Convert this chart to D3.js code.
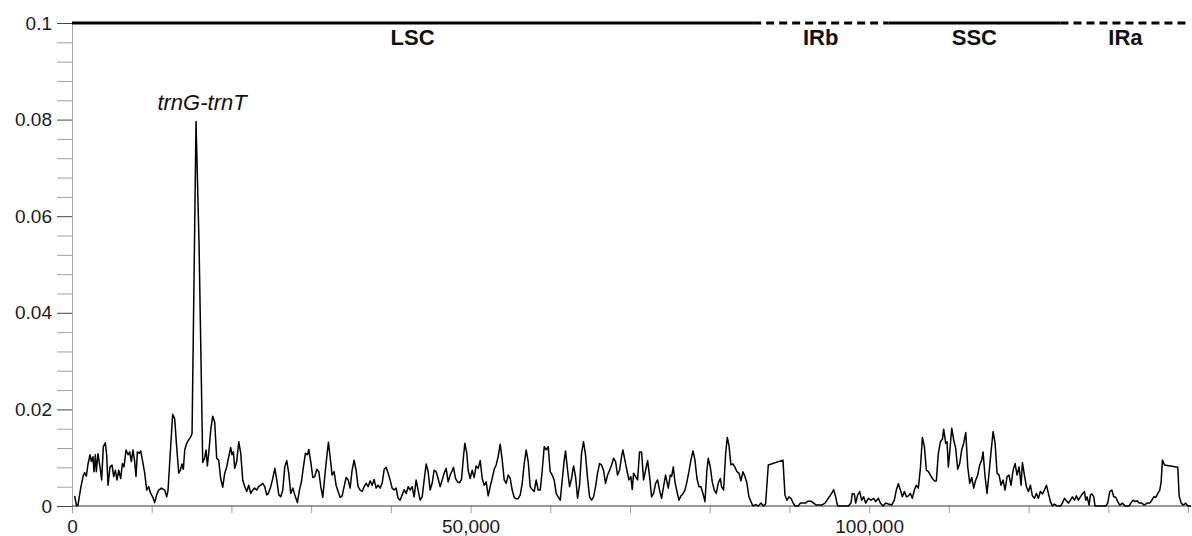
<!DOCTYPE html>
<html>
<head>
<meta charset="utf-8">
<script src="https://cdn.jsdelivr.net/npm/d3@7"></script>
<style>
  html, body { margin: 0; padding: 0; background: #fff; }
  svg { display: block; font-family: "Liberation Sans", Arial, sans-serif; }
</style>
</head>
<body>
<svg id="chart"></svg>
<script>
// sliding-window nucleotide diversity (Pi) along the plastome

// window midpoints (bp)
const positions = [
  330, 580, 750, 1090, 1380, 1590, 1800, 2010, 2260, 2430, 2630, 2760, 2930, 3050, 3260, 3510, 3720, 3930, 4180, 4350,
  4520, 4770, 5020, 5230, 5440, 5650, 5860, 6110, 6320, 6520, 6780, 7030, 7240, 7440, 7650, 7860, 8030, 8200, 8450, 8620,
  8870, 9120, 9370, 9620, 9870, 10120, 10370, 10620, 10870, 11210, 11630, 11880, 12050, 12300, 12630, 12880, 13130, 13390, 13590, 13800,
  13970, 14140, 14390, 14640, 14890, 15060, 15560, 15940, 16400, 16650, 16820, 16980, 17150, 17400, 17650, 17900, 18150, 18400, 18650, 18910,
  19160, 19410, 19660, 19910, 20080, 20250, 20410, 20660, 20920, 21170, 21420, 21670, 21920, 22170, 22420, 22670, 22920, 23170, 23420, 23670,
  23930, 24180, 24430, 24600, 24930, 25190, 25440, 25690, 25940, 26190, 26440, 26690, 26940, 27190, 27440, 27700, 27950, 28280, 28530, 28780,
  29030, 29280, 29540, 29700, 29950, 30210, 30460, 30710, 30960, 31210, 31460, 31710, 31960, 32170, 32380, 32630, 32880, 33130, 33380, 33640,
  33890, 34140, 34390, 34640, 34890, 35140, 35390, 35640, 35890, 36150, 36400, 36650, 36900, 37150, 37400, 37650, 37900, 38150, 38400, 38650,
  38910, 39160, 39410, 39660, 39910, 40160, 40410, 40660, 40910, 41160, 41420, 41670, 41920, 42170, 42420, 42670, 42920, 43170, 43420, 43670,
  43930, 44180, 44430, 44680, 44930, 45180, 45430, 45680, 45930, 46180, 46440, 46690, 46940, 47190, 47440, 47690, 47860, 48110, 48360, 48610,
  48860, 49110, 49280, 49530, 49700, 49950, 50200, 50450, 50700, 50950, 51210, 51460, 51710, 51960, 52210, 52460, 52710, 52960, 53210, 53460,
  53720, 53970, 54220, 54470, 54720, 54970, 55220, 55470, 55720, 55970, 56230, 56480, 56730, 56980, 57230, 57480, 57730, 57980, 58230, 58480,
  58740, 58990, 59240, 59490, 59740, 59990, 60240, 60490, 60740, 60990, 61250, 61500, 61750, 61910, 62170, 62420, 62670, 62920, 63170, 63420,
  63670, 63920, 64170, 64420, 64680, 64930, 65180, 65430, 65680, 65930, 66180, 66430, 66680, 66930, 67190, 67440, 67690, 67940, 68190, 68440,
  68690, 68940, 69110, 69360, 69610, 69860, 70110, 70280, 70450, 70700, 70950, 71200, 71450, 71700, 71960, 72210, 72460, 72710, 72960, 73210,
  73460, 73710, 73960, 74210, 74460, 74800, 75050, 75220, 75430, 75640, 75890, 76140, 76390, 76640, 76890, 77140, 77390, 77640, 77900, 78150,
  78400, 78650, 78900, 79150, 79400, 79650, 79820, 80070, 80320, 80570, 80820, 81070, 81330, 81490, 81740, 81990, 82200, 82410, 82660, 82920,
  83170, 83420, 83670, 83920, 84170, 84420, 84670, 84920, 85170, 85420, 85760, 86090, 86430, 86760, 87010, 87350, 89190, 89440, 89690, 89940,
  90190, 90440, 90700, 91110, 91360, 91700, 92040, 92290, 92700, 93040, 93370, 94040, 94460, 94880, 95300, 95550, 95800, 96050, 97390, 97720,
  97890, 98140, 98310, 98560, 98810, 99060, 99310, 99560, 99900, 100230, 100570, 100820, 101150, 101410, 101740, 102080, 102410, 102830, 103160, 103410,
  103660, 103920, 104170, 104420, 104670, 104920, 105170, 105420, 105670, 105920, 106170, 106430, 106680, 106930, 107180, 107430, 107680, 107930, 108180, 108430,
  108680, 108940, 109190, 109350, 109600, 109770, 109940, 110110, 110360, 110610, 110860, 111110, 111360, 111610, 111860, 112120, 112370, 112620, 112870, 113120,
  113370, 113620, 113870, 114120, 114290, 114540, 114790, 115040, 115290, 115550, 115800, 116050, 116300, 116550, 116800, 117050, 117300, 117550, 117800, 118060,
  118310, 118560, 118810, 119060, 119230, 119480, 119730, 119980, 120230, 120480, 120730, 120980, 121230, 121480, 121740, 121990, 122240, 122490, 122740, 122990,
  123240, 123580, 124000, 124240, 124500, 124750, 125000, 125250, 125500, 125750, 126000, 126250, 126500, 126750, 127010, 127170, 127340, 127590, 127760, 127930,
  128180, 128340, 129680, 129930, 130180, 130440, 130690, 130940, 131190, 131440, 131770, 132110, 132610, 132860, 133110, 133360, 133610, 133870, 134200, 134530,
  134870, 135200, 135460, 135710, 135960, 136210, 136460, 136630, 136790, 137050, 138720, 138890, 139140, 139390, 139720, 139970, 140390
];

// Pi value for each window
const piValues = [
  0.0021, 0, 0.0002, 0.0037, 0.0061, 0.0069, 0.0062, 0.0087, 0.0106, 0.0092, 0.0102, 0.0071, 0.0106, 0.0071, 0.0108, 0.0081, 0.0054, 0.0123, 0.0131, 0.0106,
  0.0043, 0.0081, 0.0085, 0.0061, 0.0074, 0.0054, 0.0074, 0.0057, 0.0088, 0.0081, 0.0116, 0.0106, 0.0112, 0.0092, 0.0116, 0.0092, 0.0061, 0.0112, 0.0109, 0.0114,
  0.0092, 0.0068, 0.0033, 0.0040, 0.0026, 0.0019, 0.0007, 0.0023, 0.0033, 0.0037, 0.0033, 0.0019, 0.0033, 0.0102, 0.0190, 0.0181, 0.0123, 0.0068, 0.0074, 0.0087,
  0.0076, 0.0116, 0.0130, 0.0137, 0.0143, 0.0150, 0.0796, 0.0540, 0.0090, 0.0100, 0.0116, 0.0083, 0.0109, 0.0157, 0.0186, 0.0174, 0.0099, 0.0095, 0.0057, 0.0039,
  0.0068, 0.0081, 0.0102, 0.0121, 0.0106, 0.0112, 0.0078, 0.0092, 0.0133, 0.0109, 0.0054, 0.0040, 0.0030, 0.0043, 0.0026, 0.0033, 0.0037, 0.0033, 0.0040, 0.0043,
  0.0047, 0.0040, 0.0023, 0.0025, 0.0040, 0.0057, 0.0078, 0.0054, 0.0023, 0.0019, 0.0033, 0.0081, 0.0094, 0.0068, 0.0026, 0.0037, 0.0023, 0.0007, 0.0033, 0.0050,
  0.0081, 0.0109, 0.0106, 0.0117, 0.0092, 0.0059, 0.0061, 0.0076, 0.0071, 0.0040, 0.0018, 0.0061, 0.0102, 0.0132, 0.0102, 0.0064, 0.0071, 0.0043, 0.0030, 0.0018,
  0.0021, 0.0040, 0.0059, 0.0054, 0.0037, 0.0074, 0.0095, 0.0074, 0.0040, 0.0033, 0.0030, 0.0040, 0.0047, 0.0040, 0.0052, 0.0043, 0.0055, 0.0037, 0.0043, 0.0037,
  0.0047, 0.0076, 0.0080, 0.0068, 0.0054, 0.0037, 0.0033, 0.0037, 0.0016, 0.0012, 0.0023, 0.0034, 0.0026, 0.0040, 0.0033, 0.0040, 0.0019, 0.0054, 0.0033, 0.0012,
  0.0019, 0.0054, 0.0087, 0.0071, 0.0033, 0.0047, 0.0074, 0.0071, 0.0057, 0.0040, 0.0054, 0.0068, 0.0078, 0.0050, 0.0064, 0.0073, 0.0080, 0.0057, 0.0050, 0.0048,
  0.0055, 0.0102, 0.0130, 0.0109, 0.0074, 0.0057, 0.0074, 0.0059, 0.0083, 0.0078, 0.0094, 0.0057, 0.0043, 0.0050, 0.0021, 0.0040, 0.0057, 0.0076, 0.0085, 0.0102,
  0.0128, 0.0095, 0.0054, 0.0047, 0.0064, 0.0057, 0.0033, 0.0018, 0.0015, 0.0015, 0.0023, 0.0047, 0.0088, 0.0116, 0.0092, 0.0040, 0.0034, 0.0030, 0.0054, 0.0033,
  0.0033, 0.0074, 0.0123, 0.0116, 0.0123, 0.0071, 0.0064, 0.0054, 0.0026, 0.0019, 0.0012, 0.0054, 0.0095, 0.0114, 0.0074, 0.0040, 0.0057, 0.0083, 0.0061, 0.0016,
  0.0043, 0.0109, 0.0133, 0.0106, 0.0057, 0.0019, 0.0012, 0.0019, 0.0040, 0.0068, 0.0088, 0.0085, 0.0074, 0.0047, 0.0064, 0.0074, 0.0085, 0.0099, 0.0092, 0.0064,
  0.0074, 0.0102, 0.0116, 0.0095, 0.0074, 0.0054, 0.0061, 0.0034, 0.0068, 0.0061, 0.0054, 0.0112, 0.0112, 0.0054, 0.0074, 0.0094, 0.0061, 0.0019, 0.0026, 0.0047,
  0.0054, 0.0033, 0.0016, 0.0040, 0.0064, 0.0037, 0.0064, 0.0061, 0.0081, 0.0050, 0.0030, 0.0012, 0.0021, 0.0025, 0.0033, 0.0050, 0.0071, 0.0095, 0.0114, 0.0095,
  0.0057, 0.0040, 0.0040, 0.0026, 0.0009, 0.0074, 0.0099, 0.0081, 0.0050, 0.0033, 0.0026, 0.0047, 0.0057, 0.0040, 0.0033, 0.0106, 0.0142, 0.0126, 0.0085, 0.0087,
  0.0080, 0.0071, 0.0068, 0.0052, 0.0071, 0.0061, 0.0047, 0.0019, 0.0009, 0, 0.0003, 0, 0.0006, 0, 0.0004, 0.0085, 0.0095, 0.0023, 0.0012, 0.0019,
  0.0016, 0.0007, 0, 0, 0.0006, 0.0006, 0.0006, 0.0010, 0.0010, 0.0006, 0.0002, 0.0002, 0.0006, 0.0016, 0.0026, 0.0034, 0.0019, 0, 0, 0.0006,
  0.0026, 0.0025, 0.0006, 0.0023, 0.0030, 0.0012, 0.0019, 0.0006, 0.0016, 0.0012, 0.0016, 0.0009, 0.0016, 0.0006, 0, 0.0006, 0.0004, 0.0002, 0.0012, 0.0033,
  0.0046, 0.0033, 0.0019, 0.0030, 0.0019, 0.0021, 0.0026, 0.0016, 0.0033, 0.0043, 0.0037, 0.0078, 0.0142, 0.0123, 0.0074, 0.0071, 0.0064, 0.0057, 0.0052, 0.0052,
  0.0109, 0.0133, 0.0138, 0.0159, 0.0130, 0.0133, 0.0081, 0.0112, 0.0161, 0.0137, 0.0119, 0.0076, 0.0088, 0.0116, 0.0130, 0.0152, 0.0081, 0.0047, 0.0059, 0.0037,
  0.0054, 0.0064, 0.0085, 0.0095, 0.0112, 0.0061, 0.0026, 0.0068, 0.0112, 0.0154, 0.0130, 0.0068, 0.0064, 0.0043, 0.0054, 0.0033, 0.0061, 0.0064, 0.0043, 0.0074,
  0.0088, 0.0064, 0.0081, 0.0043, 0.0090, 0.0064, 0.0040, 0.0030, 0.0043, 0.0021, 0.0016, 0.0026, 0.0016, 0.0030, 0.0025, 0.0033, 0.0043, 0.0026, 0.0009, 0,
  0.0004, 0, 0, 0.0006, 0.0016, 0.0011, 0.0006, 0.0012, 0.0019, 0.0012, 0.0021, 0.0012, 0.0019, 0.0025, 0.0030, 0.0012, 0.0019, 0.0002, 0.0023, 0.0025,
  0.0019, 0, 0, 0.0006, 0.0030, 0.0033, 0.0019, 0.0018, 0.0009, 0.0002, 0.0006, 0, 0, 0.0007, 0.0012, 0.0009, 0.0011, 0.0006, 0.0006, 0.0002,
  0.0006, 0.0006, 0.0012, 0.0019, 0.0018, 0.0026, 0.0033, 0.0050, 0.0095, 0.0085, 0.0080, 0.0021, 0.0006, 0.0002, 0.0006, 0, 0
];

// genome regions
const regionNames = ['LSC', 'IRb', 'SSC', 'IRa'];
const regionStarts = [0, 85450, 102400, 124000];
const regionEnds = [85450, 102400, 124000, 140300];

// ticks
const xMajorTicks = [0, 50000, 100000];
const xMinorTicks = [0, 10000, 20000, 30000, 40000, 50000, 60000, 70000, 80000, 90000, 100000, 110000, 120000, 130000, 140000];
const yMajorTicks = [0, 0.02, 0.04, 0.06, 0.08, 0.1];
const yMinorTicks = [0.004, 0.008, 0.012, 0.016, 0.024, 0.028, 0.032, 0.036, 0.044, 0.048, 0.052, 0.056,
                     0.064, 0.068, 0.072, 0.076, 0.084, 0.088, 0.092, 0.096];

// annotation
const peakLabel = 'trnG-trnT';
const peakPos = 15560;
const peakValue = 0.0796;

const W = 1192, H = 536;
const margin = { top: 23, right: 4, bottom: 30, left: 72 };

const svg = d3.select('#chart')
  .attr('width', W)
  .attr('height', H);

const x = d3.scaleLinear()
  .domain([0, 140000])
  .range([margin.left, W - margin.right]);

const y = d3.scaleLinear()
  .domain([0, 0.1])
  .range([H - margin.bottom, margin.top]);

// y axis: minor ticks (grey)
svg.append('g')
  .attr('transform', `translate(${margin.left},0)`)
  .call(d3.axisLeft(y).tickValues(yMinorTicks).tickSize(15).tickFormat(''))
  .call(g => g.select('.domain').remove())
  .call(g => g.selectAll('line').attr('stroke', '#a0a0a0'));

// y axis: major ticks + labels
svg.append('g')
  .attr('transform', `translate(${margin.left},0)`)
  .call(d3.axisLeft(y).tickValues(yMajorTicks).tickSize(15).tickPadding(5)
    .tickFormat(d => d === 0 ? '0' : d3.format('.2~f')(d)))
  .call(g => g.select('.domain').attr('stroke', '#a8a8a8'))
  .call(g => g.selectAll('line').attr('stroke', '#444'))
  .call(g => g.selectAll('text')
    .attr('font-size', 19)
    .attr('font-family', '"Liberation Sans", Arial, sans-serif')
    .attr('fill', '#1a1a1a'));

// x axis: small ticks every 10 kb
svg.append('g')
  .attr('transform', `translate(0,${y(0)})`)
  .call(d3.axisBottom(x).tickValues(xMinorTicks).tickSize(7).tickFormat(''))
  .call(g => g.select('.domain').remove())
  .call(g => g.selectAll('line').attr('stroke', '#a0a0a0'));

// x axis labels
svg.append('g')
  .attr('transform', `translate(0,${y(0)})`)
  .call(d3.axisBottom(x).tickValues(xMajorTicks).tickSize(0).tickPadding(14)
    .tickFormat(d3.format(',')))
  .call(g => g.select('.domain').remove())
  .call(g => g.selectAll('text')
    .attr('font-size', 19)
    .attr('font-family', '"Liberation Sans", Arial, sans-serif')
    .attr('fill', '#1a1a1a'));

// baseline
svg.append('line')
  .attr('x1', x(0)).attr('x2', W - 2)
  .attr('y1', y(0)).attr('y2', y(0))
  .attr('stroke', '#333')
  .attr('stroke-width', 1.2);

// Pi line
const points = positions.map((p, i) => [p, piValues[i]]);
svg.append('path')
  .datum(points)
  .attr('fill', 'none')
  .attr('stroke', '#000')
  .attr('stroke-width', 1.5)
  .attr('stroke-linejoin', 'round')
  .attr('d', d3.line().x(d => x(d[0])).y(d => y(d[1])));

// region bars along the top
const regions = regionNames.map((name, i) => ({ name, start: regionStarts[i], end: regionEnds[i] }));
const rg = svg.append('g');
rg.selectAll('line')
  .data(regions)
  .join('line')
    .attr('x1', d => x(d.start))
    .attr('x2', d => Math.min(x(d.end), W - 1))
    .attr('y1', y(0.1))
    .attr('y2', y(0.1))
    .attr('stroke', '#000')
    .attr('stroke-width', 3)
    .attr('stroke-dasharray', d => d.name.startsWith('IR') ? '8,5' : null);

rg.selectAll('text')
  .data(regions)
  .join('text')
    .attr('x', d => (x(d.start) + Math.min(x(d.end), W)) / 2)
    .attr('y', 45)
    .attr('text-anchor', 'middle')
    .attr('font-size', 22)
    .attr('font-weight', 'bold')
    .attr('fill', '#111')
    .text(d => d.name);

// peak label
svg.append('text')
  .attr('x', x(peakPos) + 6)
  .attr('y', y(peakValue) - 12)
  .attr('text-anchor', 'middle')
  .attr('font-size', 22)
  .attr('font-style', 'italic')
  .attr('fill', '#111')
  .text(peakLabel);
</script>
</body>
</html>
